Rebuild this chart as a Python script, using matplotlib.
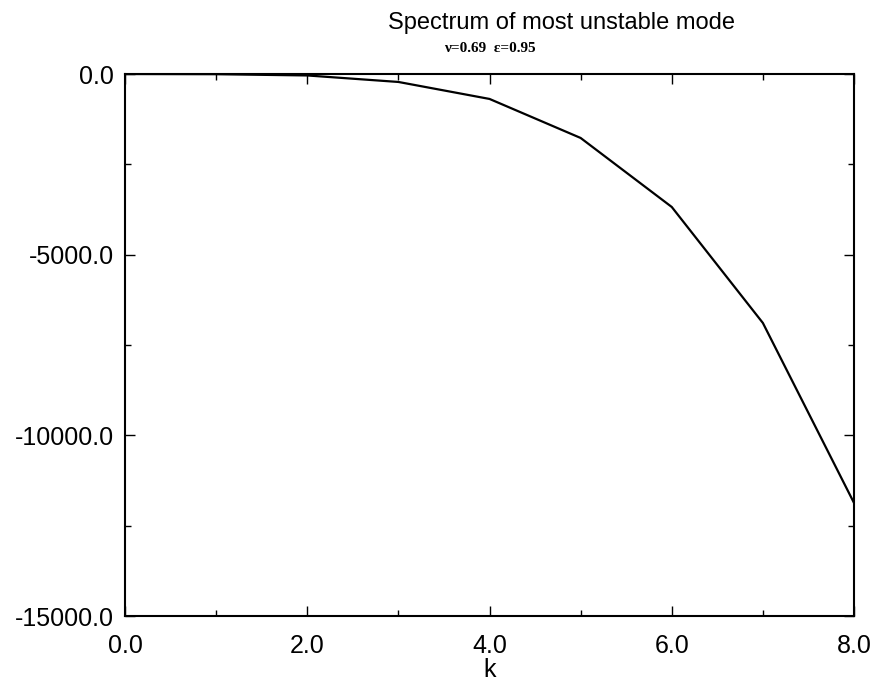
import matplotlib
matplotlib.use("Agg")
import matplotlib.pyplot as plt
from matplotlib.ticker import MultipleLocator, FormatStrFormatter

# growth rate of most unstable mode vs wavenumber
k = [0, 1, 2, 3, 4, 5, 6, 7, 8]
sigma = [0, -5, -40, -220, -690, -1770, -3680, -6890, -11870]

title = "Spectrum of most unstable mode"
subtitle = "ν=0.69  ε=0.95"

plt.rcParams['font.family'] = ['Liberation Sans', 'DejaVu Sans']

fig = plt.figure(figsize=(8.75, 6.84), dpi=100)
ax = fig.add_axes([0.1429, 0.0994, 0.8331, 0.7924])

ax.plot(k, sigma, color='black', linewidth=1.6)

ax.set_xlim(0, 8)
ax.set_ylim(-15000, 0)
ax.xaxis.set_major_locator(MultipleLocator(2))
ax.xaxis.set_minor_locator(MultipleLocator(1))
ax.yaxis.set_major_locator(MultipleLocator(5000))
ax.yaxis.set_minor_locator(MultipleLocator(2500))
ax.xaxis.set_major_formatter(FormatStrFormatter('%.1f'))
ax.yaxis.set_major_formatter(FormatStrFormatter('%.1f'))

ax.tick_params(which='both', direction='in', top=True, right=True, labelsize=18)
ax.tick_params(which='major', length=7, width=1.0)
ax.tick_params(which='minor', length=4, width=1.0)
ax.tick_params(axis='x', pad=13)
ax.tick_params(axis='y', pad=8)
for s in ax.spines.values():
    s.set_linewidth(1.5)

ax.set_xlabel("k", fontsize=18, labelpad=0)
fig.text(0.642, 0.967, title, ha='center', va='center', fontsize=17)
fig.text(0.56, 0.929, subtitle, ha='center', va='center', fontsize=11,
         family=['Liberation Serif', 'DejaVu Serif'], fontweight='bold')

fig.savefig("out.png", dpi=100)
